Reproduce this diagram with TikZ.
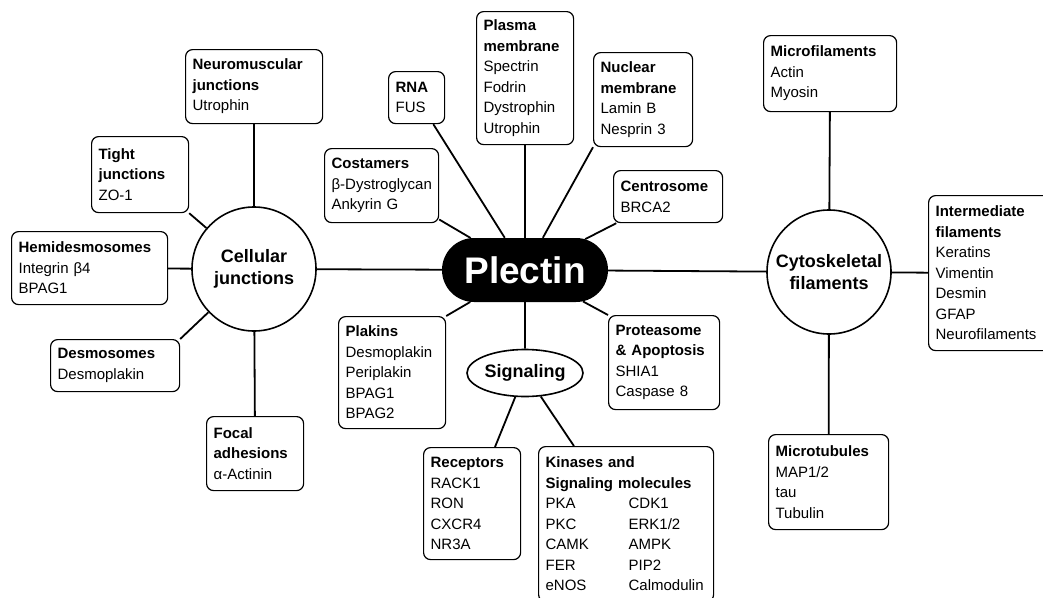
\documentclass[tikz,border=0pt]{standalone}
\usepackage{fontspec}
\setmainfont{Liberation Sans}
\usetikzlibrary{shapes.geometric,shapes.misc}
\newcommand\hd[1]{\textbf{#1}}
\newcommand\kv[2]{\makebox[83pt][l]{#1}#2}
\begin{document}
\begin{tikzpicture}[x=1pt,y=-1pt,
 box/.style={draw,line width=1.2pt,rounded corners=7pt,anchor=north west,align=left,inner xsep=7pt,inner ysep=3pt,font=\fontsize{15}{20.5}\selectfont},
 hub/.style={circle,draw,line width=1.6pt,minimum size=124pt,inner sep=0pt,align=center,font=\bfseries\fontsize{18}{22}\selectfont},
 link/.style={line width=1.8pt}]
\useasboundingbox (0,0) rectangle (1043,597);
% centre
\node[rounded rectangle,fill=black,text=white,minimum width=166pt,minimum height=64pt,inner sep=0pt,font=\bfseries\fontsize{37}{40}\selectfont] (pl) at (525,270) {Plectin};
\node[hub] (cj) at (254,269) {Cellular\\junctions};
\node[hub] (cf) at (829,272) {Cytoskeletal\\filaments};
\node[ellipse,draw,line width=1.6pt,minimum width=116pt,minimum height=47pt,inner sep=0pt,font=\bfseries\fontsize{18}{22}\selectfont] (sg) at (525,373) {Signaling};
% around plectin
\node[box,text width=83pt,minimum height=133pt] (pm) at (476,11) {\hd{Plasma}\\\hd{membrane}\\Spectrin\\Fodrin\\Dystrophin\\Utrophin};
\node[box,text width=85pt,minimum height=94pt] (nm) at (593,52) {\hd{Nuclear}\\\hd{membrane}\\Lamin B\\Nesprin 3};
\node[box,text width=95pt,minimum height=52pt] (cs) at (613,170) {\hd{Centrosome}\\BRCA2};
\node[box,text width=42pt,minimum height=52pt] (rna) at (388,71) {\hd{RNA}\\FUS};
\node[box,text width=100pt,minimum height=74pt] (co) at (324,148) {\hd{Costamers}\\\mbox{β-Dystroglycan}\\Ankyrin G};
\node[box,text width=93pt,minimum height=112pt] (pk) at (338,316) {\hd{Plakins}\\Desmoplakin\\Periplakin\\BPAG1\\BPAG2};
\node[box,text width=97pt,minimum height=94pt] (pa) at (608,315) {\hd{Proteasome}\\\hd{\& Apoptosis}\\SHIA1\\Caspase 8};
\node[box,text width=83pt,minimum height=112pt] (rc) at (423,447) {\hd{Receptors}\\RACK1\\RON\\CXCR4\\NR3A};
\node[box,text width=161pt,minimum height=155pt] (ks) at (538,446) {\hd{Kinases and}\\\hd{Signaling molecules}\\\kv{PKA}{CDK1}\\\kv{PKC}{ERK1/2}\\\kv{CAMK}{AMPK}\\\kv{FER}{PIP2}\\\kv{eNOS}{Calmodulin}};
% cellular junctions
\node[box,text width=123pt,minimum height=74pt] (nj) at (185,49) {\hd{Neuromuscular}\\\hd{junctions}\\Utrophin};
\node[box,text width=83pt,minimum height=76pt] (tj) at (91,136) {\hd{Tight}\\\hd{junctions}\\ZO-1};
\node[box,text width=142pt,minimum height=73pt] (hd) at (11,231) {\hd{Hemidesmosomes}\\Integrin β4\\BPAG1};
\node[box,text width=115pt,minimum height=52pt] (dm) at (50,339) {\hd{Desmosomes}\\Desmoplakin};
\node[box,text width=83pt,minimum height=74pt] (fa) at (206,416) {\hd{Focal}\\\hd{adhesions}\\α-Actinin};
% cytoskeletal filaments
\node[box,text width=119pt,minimum height=76pt] (mf) at (763,35) {\hd{Microfilaments}\\Actin\\Myosin};
\node[box,text width=110pt,minimum height=155pt] (imf) at (928,195) {\hd{Intermediate}\\\hd{filaments}\\Keratins\\Vimentin\\Desmin\\GFAP\\Neurofilaments};
\node[box,text width=106pt,minimum height=95pt] (mt) at (768,434) {\hd{Microtubules}\\MAP1/2\\tau\\Tubulin};
\draw[link] foreach \X in {cj,cf,pm,cs,rna,co,sg,nm.south west,pk.north east,pa.north west} {(pl) -- (\X)}
 (sg) -- (rc) (sg) -- (ks);
\draw[link] foreach \X in {nj,tj.south east,hd,dm.north east,fa} {(cj) -- (\X)};
\draw[link] foreach \X in {mf,imf,mt} {(cf) -- (\X)};
\end{tikzpicture}
\end{document}
